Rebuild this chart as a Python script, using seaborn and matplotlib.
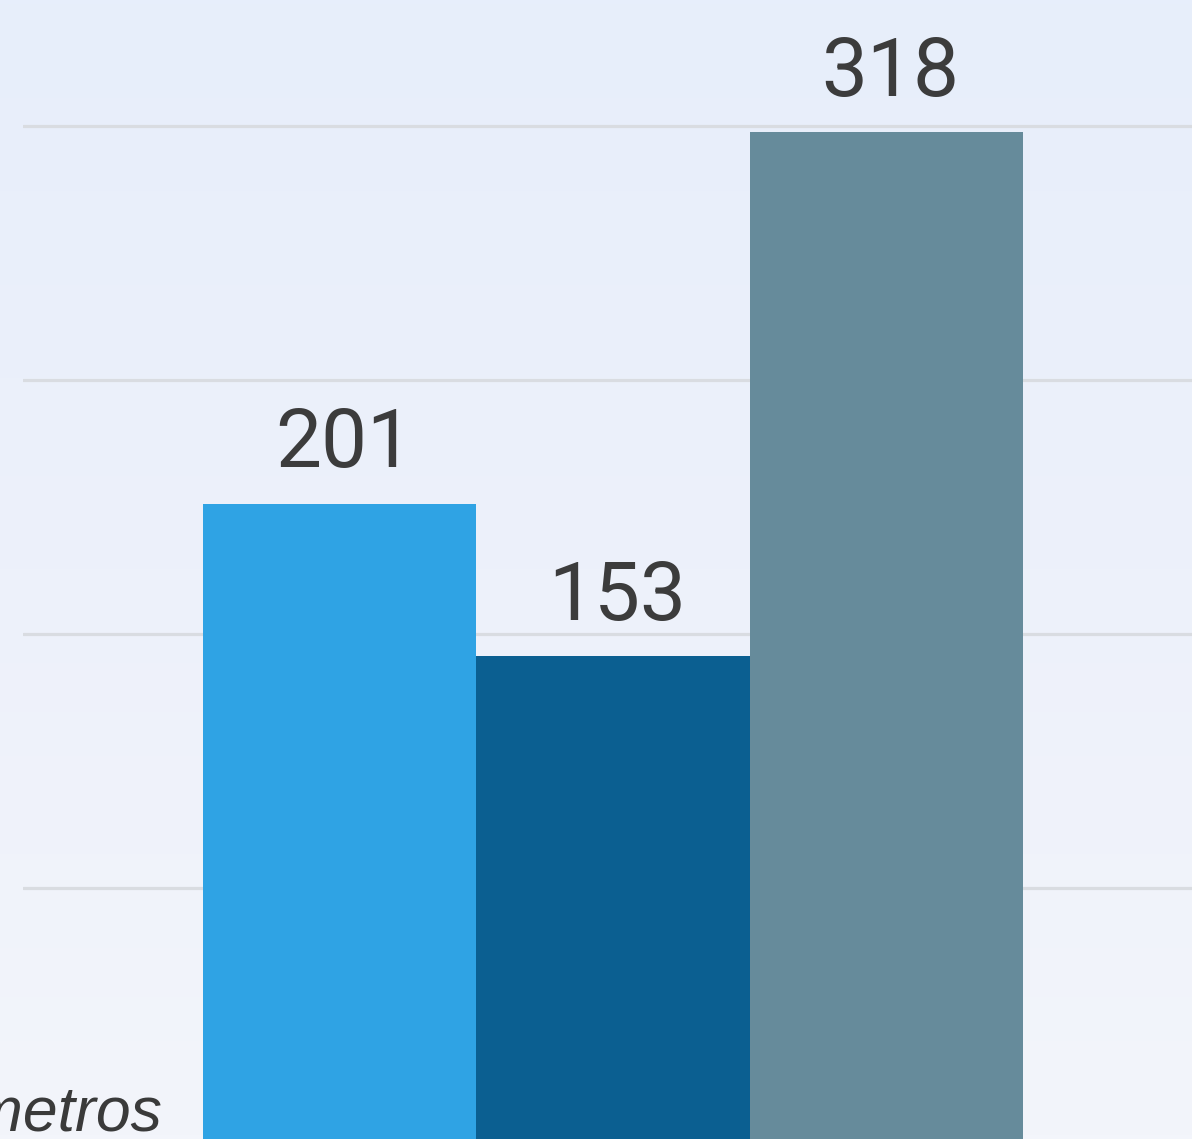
import numpy as np
import pandas as pd
import seaborn as sns
import matplotlib
matplotlib.use("Agg")
import matplotlib.pyplot as plt
from matplotlib.colors import LinearSegmentedColormap

# ---- data ----
categories = ["A", "B", "C"]
values = [201, 153, 318]
bar_colors = ["#2FA3E4", "#0B5F91", "#668B9B"]
grid_ticks = [80, 160, 240, 320]
unit_label = "kilómetros"

df = pd.DataFrame({"cat": categories, "val": values})

sns.set_style("white")
plt.rcParams["font.family"] = ["Roboto", "DejaVu Sans"]

W, H, DPI = 1192, 1139, 100
fig = plt.figure(figsize=(W / DPI, H / DPI), dpi=DPI)

# background gradient
bg = fig.add_axes([0, 0, 1, 1], zorder=-10)
cmap = LinearSegmentedColormap.from_list("bg", ["#E7EEFB", "#EDF1FA", "#F3F5FB"])
bg.imshow(np.linspace(0, 1, 256).reshape(-1, 1), aspect="auto", cmap=cmap,
          extent=[0, 1, 0, 1], origin="upper")
bg.set_axis_off()

# main axes: y=0 at pixel ~1142 from top, 3.175 px per unit
zero_px = 1142
ppu = 3.175
ymax = 360
ax_bottom = (H - zero_px) / H
ax_height = ymax * ppu / H
left_px = 23
ax = fig.add_axes([left_px / W, ax_bottom, 1 - left_px / W, ax_height])
ax.patch.set_alpha(0)

sns.barplot(data=df, x="cat", y="val", hue="cat", palette=bar_colors,
            saturation=1, width=1.0, linewidth=0, legend=False, ax=ax, zorder=3)

bar_px = 273
x_left = -0.5 - (203 - left_px) / bar_px
x_right = 2.5 + (W - 1023) / bar_px
ax.set_xlim(x_left, x_right)
ax.set_ylim(0, ymax)

ax.set_yticks(grid_ticks)
ax.yaxis.grid(True, color="#D9DCE1", linewidth=2.3, zorder=0)
ax.xaxis.grid(False)
ax.set_axisbelow(True)
ax.tick_params(left=False, bottom=False, labelleft=False, labelbottom=False)
ax.set_xlabel("")
ax.set_ylabel("")
for s in ax.spines.values():
    s.set_visible(False)

for i, v in enumerate(values):
    ax.annotate(f"{v}", xy=(i, v), xytext=(3, 14), textcoords="offset points",
                ha="center", va="bottom", fontsize=59, color="#3C3C3C",
                family=["Roboto", "DejaVu Sans"])

fig.text(163 / W, (H - 1131) / H, unit_label, ha="right", va="baseline",
         fontsize=45, style="italic", color="#3A3A3A",
         family=["Liberation Sans", "DejaVu Sans"])

fig.savefig("out.png", dpi=DPI)
